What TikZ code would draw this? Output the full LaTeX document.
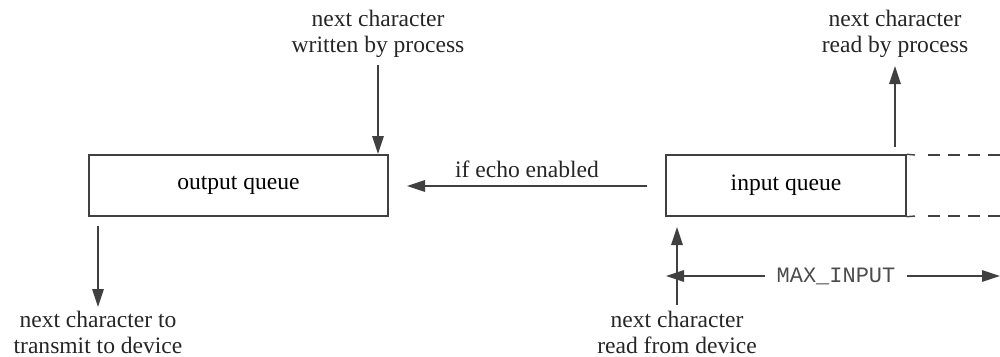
\documentclass[tikz,border=0pt]{standalone}
\usepackage{fontspec}
\setmainfont{Liberation Serif}
\setmonofont{Liberation Mono}
\usetikzlibrary{arrows.meta}
\begin{document}
\begin{tikzpicture}[
  line width=0.8pt,
  queue/.style={draw=black!75, minimum height=1.22cm, inner sep=0pt, font=\fontsize{13.4}{15}\selectfont},
  lbl/.style={align=center, inner sep=0pt, font=\fontsize{13.4}{14.6}\selectfont, text=black!85},
  arr/.style={draw=black!75, -{Triangle[length=3.6mm,width=2.3mm]}},
  mono/.style={inner sep=0pt, font=\ttfamily\fontsize{12.5}{14}\selectfont, text=black!70}
]
\useasboundingbox (0,0) rectangle (20,7.12);
% boxes
\node[queue, minimum width=5.98cm] (outq) at (4.77,3.41) {output queue};
\node[queue, minimum width=4.80cm] (inq) at (15.72,3.41) {input queue};
% dashed extension of input queue
\coordinate (dt1) at (20.0,4.02);
\coordinate (db1) at (20.0,2.80);
\coordinate (st) at (18.30,4.02);
\coordinate (sb) at (18.30,2.80);
\draw[draw=black!75] (inq.north east) -- (st);
\draw[draw=black!75] (inq.south east) -- (sb);
\draw[draw=black!75, dash pattern=on 0.24cm off 0.16cm] (st) ++(0.26,0) -- (dt1);
\draw[draw=black!75, dash pattern=on 0.24cm off 0.16cm] (sb) ++(0.26,0) -- (db1);
% labels
\node[lbl] (wlab) at (7.56,6.44) {next character\\written by process};
\node[lbl] (rlab) at (17.90,6.44) {next character\\read by process};
\node[lbl] (tlab) at (1.96,0.47) {next character to\\transmit to device};
\node[lbl] (dlab) at (13.54,0.47) {next character\\read from device};
\node[lbl, anchor=base] (elab) at (10.54,3.58) {if echo enabled};
% arrow coordinates
\coordinate (w0) at (7.56,5.82);
\coordinate (w1) at (7.56,4.04);
\coordinate (r0) at (17.90,4.18);
\coordinate (r1) at (17.90,5.80);
\coordinate (e0) at (12.94,3.40);
\coordinate (e1) at (8.14,3.40);
\coordinate (o0) at (1.96,2.60);
\coordinate (o1) at (1.96,0.98);
\coordinate (i0) at (13.54,1.02);
\coordinate (i1) at (13.54,2.58);
\draw[arr] (w0) -- (w1);
\draw[arr] (r0) -- (r1);
\draw[arr] (e0) -- (e1);
\draw[arr] (o0) -- (o1);
\draw[arr] (i0) -- (i1);
% MAX_INPUT dimension
\node[mono] (mx) at (16.72,1.60) {MAX\_INPUT};
\coordinate (ml) at (13.32,1.60);
\coordinate (mr) at (20.0,1.60);
\draw[arr] ([xshift=-0.22cm]mx.west) -- (ml);
\draw[arr] ([xshift=0.22cm]mx.east) -- (mr);
\end{tikzpicture}
\end{document}
